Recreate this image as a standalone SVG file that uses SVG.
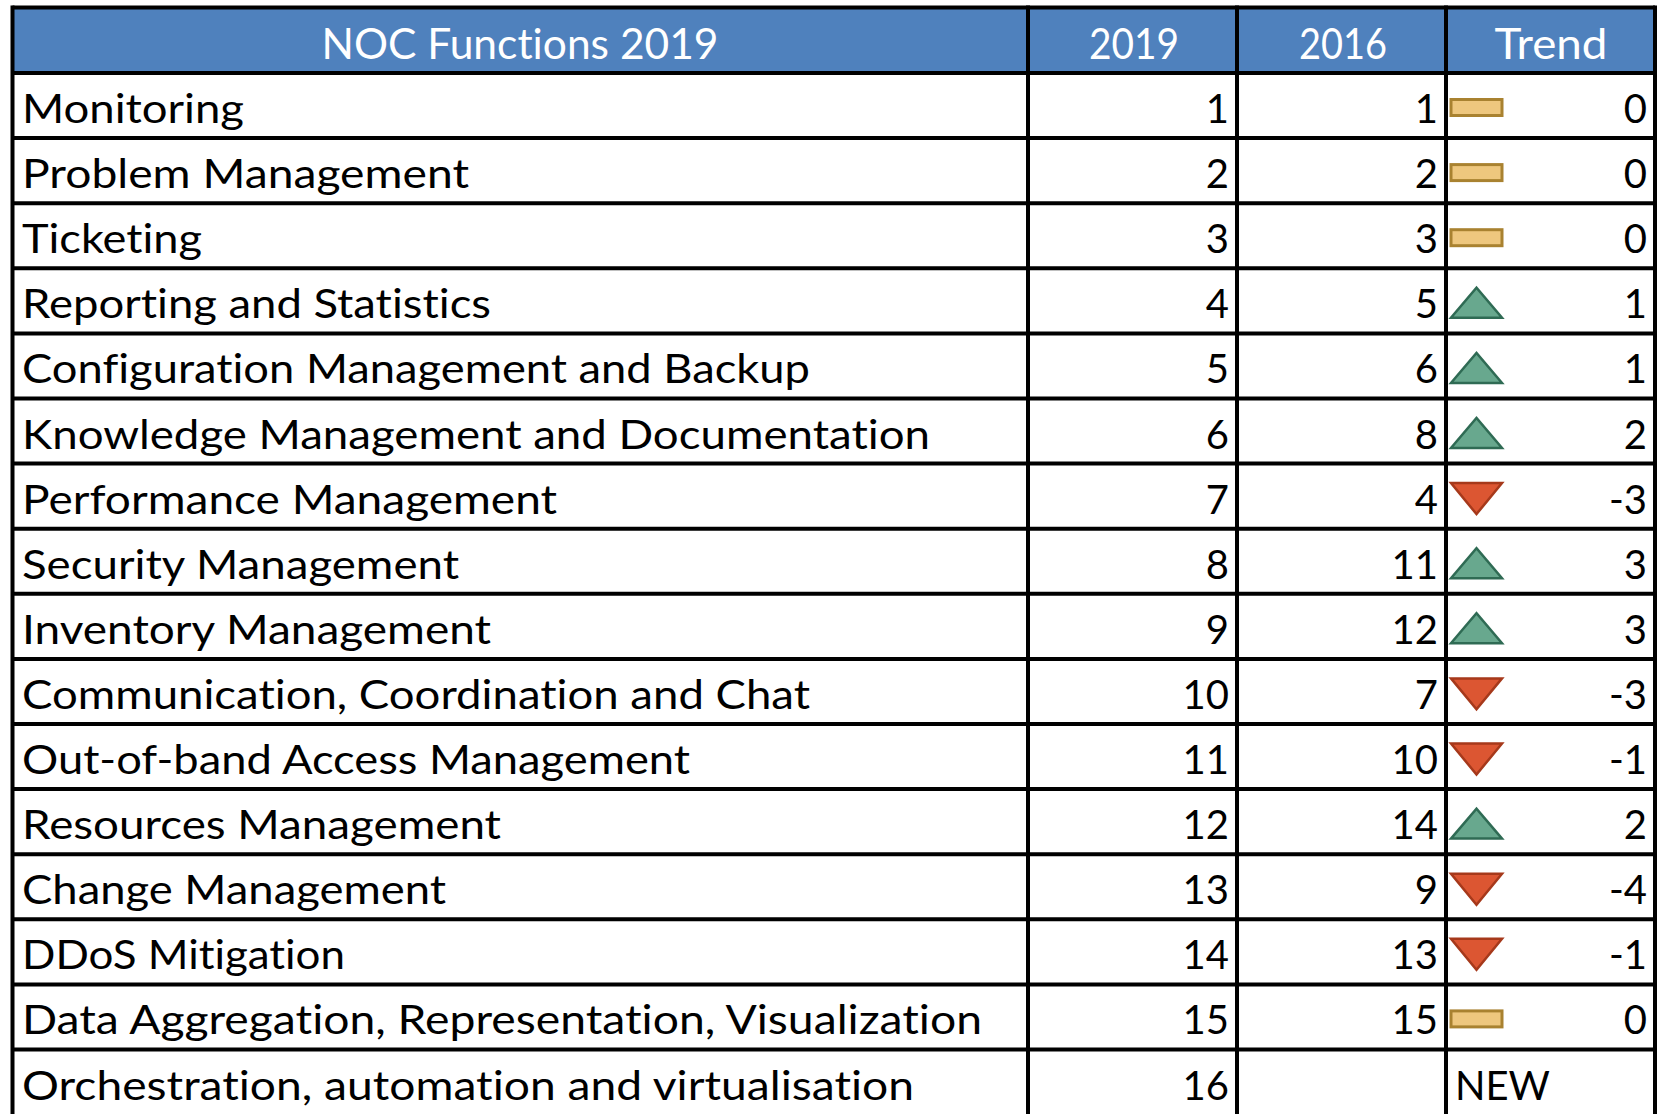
<svg xmlns="http://www.w3.org/2000/svg" width="1663" height="1114" viewBox="0 0 1663 1114">
<style>
text{font-variant-ligatures:none;font-feature-settings:"liga" 0,"clig" 0}
.lbl{font-family:Lato,"Open Sans","Liberation Sans",sans-serif;font-size:40px;fill:#000}
.num{font-family:Lato,"Open Sans","Liberation Sans",sans-serif;font-size:40px;fill:#000;text-anchor:end}
.hdr{font-family:Lato,"Open Sans","Liberation Sans",sans-serif;font-size:43px;fill:#fff;text-anchor:middle}
.grid{stroke:#000;stroke-width:4;fill:none}
.bar{fill:#EEC77E;stroke:#A98230;stroke-width:3}
.up{fill:#68A88E;stroke:#2F6B54;stroke-width:2.5;stroke-linejoin:miter}
.down{fill:#DC5632;stroke:#A6391B;stroke-width:2.5;stroke-linejoin:miter}
</style>
<defs>
<rect id="bar" class="bar" x="1451" y="-6" width="51" height="16"/>
<polygon id="up" class="up" points="1451,17 1502,17 1476.5,-13"/>
<polygon id="down" class="down" points="1451,-13 1502,-13 1476.5,18"/>
</defs>
<rect x="0" y="0" width="1663" height="1114" fill="#fff"/>
<g id="header">
<rect x="12.5" y="7.5" width="1642.5" height="65.5" fill="#4F81BD"/>
<text class="hdr" x="520" y="59" textLength="397" lengthAdjust="spacingAndGlyphs">NOC Functions 2019</text>
<text class="hdr" x="1134" y="59" textLength="90" lengthAdjust="spacingAndGlyphs">2019</text>
<text class="hdr" x="1343" y="59" textLength="88" lengthAdjust="spacingAndGlyphs">2016</text>
<text class="hdr" x="1551" y="59" textLength="113" lengthAdjust="spacingAndGlyphs">Trend</text>
</g>
<g id="row1" transform="translate(0,73)">
<text class="lbl" x="22" y="50" textLength="222" lengthAdjust="spacingAndGlyphs">Monitoring</text>
<text class="num" x="1229" y="50">1</text><text class="num" x="1438" y="50">1</text>
<use href="#bar" y="32.5"/><text class="num" x="1647" y="50">0</text>
</g>
<g id="row2" transform="translate(0,138.1)">
<text class="lbl" x="22" y="50" textLength="447" lengthAdjust="spacingAndGlyphs">Problem Management</text>
<text class="num" x="1229" y="50">2</text><text class="num" x="1438" y="50">2</text>
<use href="#bar" y="32.5"/><text class="num" x="1647" y="50">0</text>
</g>
<g id="row3" transform="translate(0,203.2)">
<text class="lbl" x="22" y="50" textLength="180" lengthAdjust="spacingAndGlyphs">Ticketing</text>
<text class="num" x="1229" y="50">3</text><text class="num" x="1438" y="50">3</text>
<use href="#bar" y="32.5"/><text class="num" x="1647" y="50">0</text>
</g>
<g id="row4" transform="translate(0,268.3)">
<text class="lbl" x="22" y="50" textLength="469" lengthAdjust="spacingAndGlyphs">Reporting and Statistics</text>
<text class="num" x="1229" y="50">4</text><text class="num" x="1438" y="50">5</text>
<use href="#up" y="32.5"/><text class="num" x="1647" y="50">1</text>
</g>
<g id="row5" transform="translate(0,333.4)">
<text class="lbl" x="22" y="50" textLength="788" lengthAdjust="spacingAndGlyphs">Configuration Management and Backup</text>
<text class="num" x="1229" y="50">5</text><text class="num" x="1438" y="50">6</text>
<use href="#up" y="32.5"/><text class="num" x="1647" y="50">1</text>
</g>
<g id="row6" transform="translate(0,398.5)">
<text class="lbl" x="22" y="50" textLength="908" lengthAdjust="spacingAndGlyphs">Knowledge Management and Documentation</text>
<text class="num" x="1229" y="50">6</text><text class="num" x="1438" y="50">8</text>
<use href="#up" y="32.5"/><text class="num" x="1647" y="50">2</text>
</g>
<g id="row7" transform="translate(0,463.6)">
<text class="lbl" x="22" y="50" textLength="535" lengthAdjust="spacingAndGlyphs">Performance Management</text>
<text class="num" x="1229" y="50">7</text><text class="num" x="1438" y="50">4</text>
<use href="#down" y="32.5"/><text class="num" x="1647" y="50">-3</text>
</g>
<g id="row8" transform="translate(0,528.7)">
<text class="lbl" x="22" y="50" textLength="437" lengthAdjust="spacingAndGlyphs">Security Management</text>
<text class="num" x="1229" y="50">8</text><text class="num" x="1438" y="50">11</text>
<use href="#up" y="32.5"/><text class="num" x="1647" y="50">3</text>
</g>
<g id="row9" transform="translate(0,593.8)">
<text class="lbl" x="22" y="50" textLength="469" lengthAdjust="spacingAndGlyphs">Inventory Management</text>
<text class="num" x="1229" y="50">9</text><text class="num" x="1438" y="50">12</text>
<use href="#up" y="32.5"/><text class="num" x="1647" y="50">3</text>
</g>
<g id="row10" transform="translate(0,658.9)">
<text class="lbl" x="22" y="50" textLength="788" lengthAdjust="spacingAndGlyphs">Communication, Coordination and Chat</text>
<text class="num" x="1229" y="50">10</text><text class="num" x="1438" y="50">7</text>
<use href="#down" y="32.5"/><text class="num" x="1647" y="50">-3</text>
</g>
<g id="row11" transform="translate(0,724)">
<text class="lbl" x="22" y="50" textLength="668" lengthAdjust="spacingAndGlyphs">Out-of-band Access Management</text>
<text class="num" x="1229" y="50">11</text><text class="num" x="1438" y="50">10</text>
<use href="#down" y="32.5"/><text class="num" x="1647" y="50">-1</text>
</g>
<g id="row12" transform="translate(0,789.1)">
<text class="lbl" x="22" y="50" textLength="479" lengthAdjust="spacingAndGlyphs">Resources Management</text>
<text class="num" x="1229" y="50">12</text><text class="num" x="1438" y="50">14</text>
<use href="#up" y="32.5"/><text class="num" x="1647" y="50">2</text>
</g>
<g id="row13" transform="translate(0,854.2)">
<text class="lbl" x="22" y="50" textLength="424" lengthAdjust="spacingAndGlyphs">Change Management</text>
<text class="num" x="1229" y="50">13</text><text class="num" x="1438" y="50">9</text>
<use href="#down" y="32.5"/><text class="num" x="1647" y="50">-4</text>
</g>
<g id="row14" transform="translate(0,919.3)">
<text class="lbl" x="22" y="50" textLength="323" lengthAdjust="spacingAndGlyphs">DDoS Mitigation</text>
<text class="num" x="1229" y="50">14</text><text class="num" x="1438" y="50">13</text>
<use href="#down" y="32.5"/><text class="num" x="1647" y="50">-1</text>
</g>
<g id="row15" transform="translate(0,984.4)">
<text class="lbl" x="22" y="50" textLength="960" lengthAdjust="spacingAndGlyphs">Data Aggregation, Representation, Visualization</text>
<text class="num" x="1229" y="50">15</text><text class="num" x="1438" y="50">15</text>
<use href="#bar" y="32.5"/><text class="num" x="1647" y="50">0</text>
</g>
<g id="row16" transform="translate(0,1049.5)">
<text class="lbl" x="22" y="50" textLength="892" lengthAdjust="spacingAndGlyphs">Orchestration, automation and virtualisation</text>
<text class="num" x="1229" y="50">16</text>
<text class="lbl" x="1455" y="50" textLength="95" lengthAdjust="spacingAndGlyphs">NEW</text>
</g>
<g id="grid" class="grid">
<path d="M12.5 7.5H1655M12.5 73H1655M12.5 138.1H1655M12.5 203.2H1655M12.5 268.3H1655M12.5 333.4H1655M12.5 398.5H1655M12.5 463.6H1655M12.5 528.7H1655M12.5 593.8H1655M12.5 658.9H1655M12.5 724H1655M12.5 789.1H1655M12.5 854.2H1655M12.5 919.3H1655M12.5 984.4H1655M12.5 1049.5H1655"/>
<path d="M12.5 5.5V1114M1028 5.5V1114M1237 5.5V1114M1446 5.5V1114M1655 5.5V1114"/>
</g>
</svg>
